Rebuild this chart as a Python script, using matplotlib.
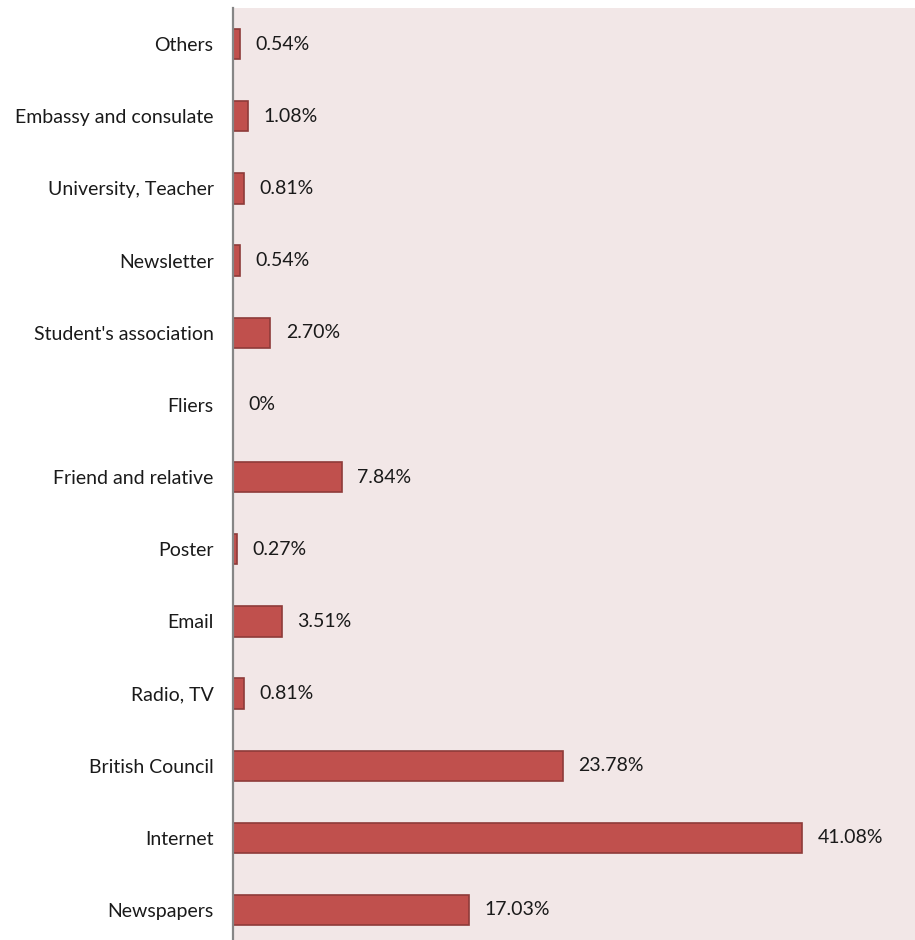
import matplotlib
matplotlib.use("Agg")
import matplotlib.pyplot as plt

# Where people heard about the programme (share of respondents, %)
categories = ["Newspapers", "Internet", "British Council", "Radio, TV", "Email",
              "Poster", "Friend and relative", "Fliers", "Student's association",
              "Newsletter", "University, Teacher", "Embassy and consulate", "Others"]
values = [17.03, 41.08, 23.78, 0.81, 3.51, 0.27, 7.84, 0.0, 2.70, 0.54, 0.81, 1.08, 0.54]
value_labels = ["17.03%", "41.08%", "23.78%", "0.81%", "3.51%", "0.27%", "7.84%",
                "0%", "2.70%", "0.54%", "0.81%", "1.08%", "0.54%"]

plt.rcParams['font.family'] = ['Lato', 'DejaVu Sans']

W, H = 915, 940
fig = plt.figure(figsize=(W / 100, H / 100), dpi=100)
fig.patch.set_facecolor("white")
ax = fig.add_axes([233 / W, 0, (W - 233) / W, (H - 8) / H])
ax.set_facecolor("#f2e7e7")

ypos = list(range(len(categories)))
ax.barh(ypos, values, height=0.42, color="#c0504d", edgecolor="#8e3b39",
        linewidth=1.2, zorder=2)

for y, v, lab in zip(ypos, values, value_labels):
    ax.annotate(lab, xy=(v, y), xytext=(11, 0), textcoords="offset points",
                ha="left", va="center", fontsize=14, color="#1a1a1a")

ax.set_xlim(0, 49.2)
ax.set_ylim(-0.416, 12.5)
ax.set_yticks(ypos)
ax.set_yticklabels(categories, fontsize=14, color="#1a1a1a")
ax.tick_params(axis="y", length=0, pad=14)
ax.set_xticks([])

for side in ("top", "right", "bottom"):
    ax.spines[side].set_visible(False)
ax.spines["left"].set_color("#868686")
ax.spines["left"].set_linewidth(1.6)
ax.spines["left"].set_zorder(3)

fig.savefig("out.png", dpi=100, facecolor="white")
